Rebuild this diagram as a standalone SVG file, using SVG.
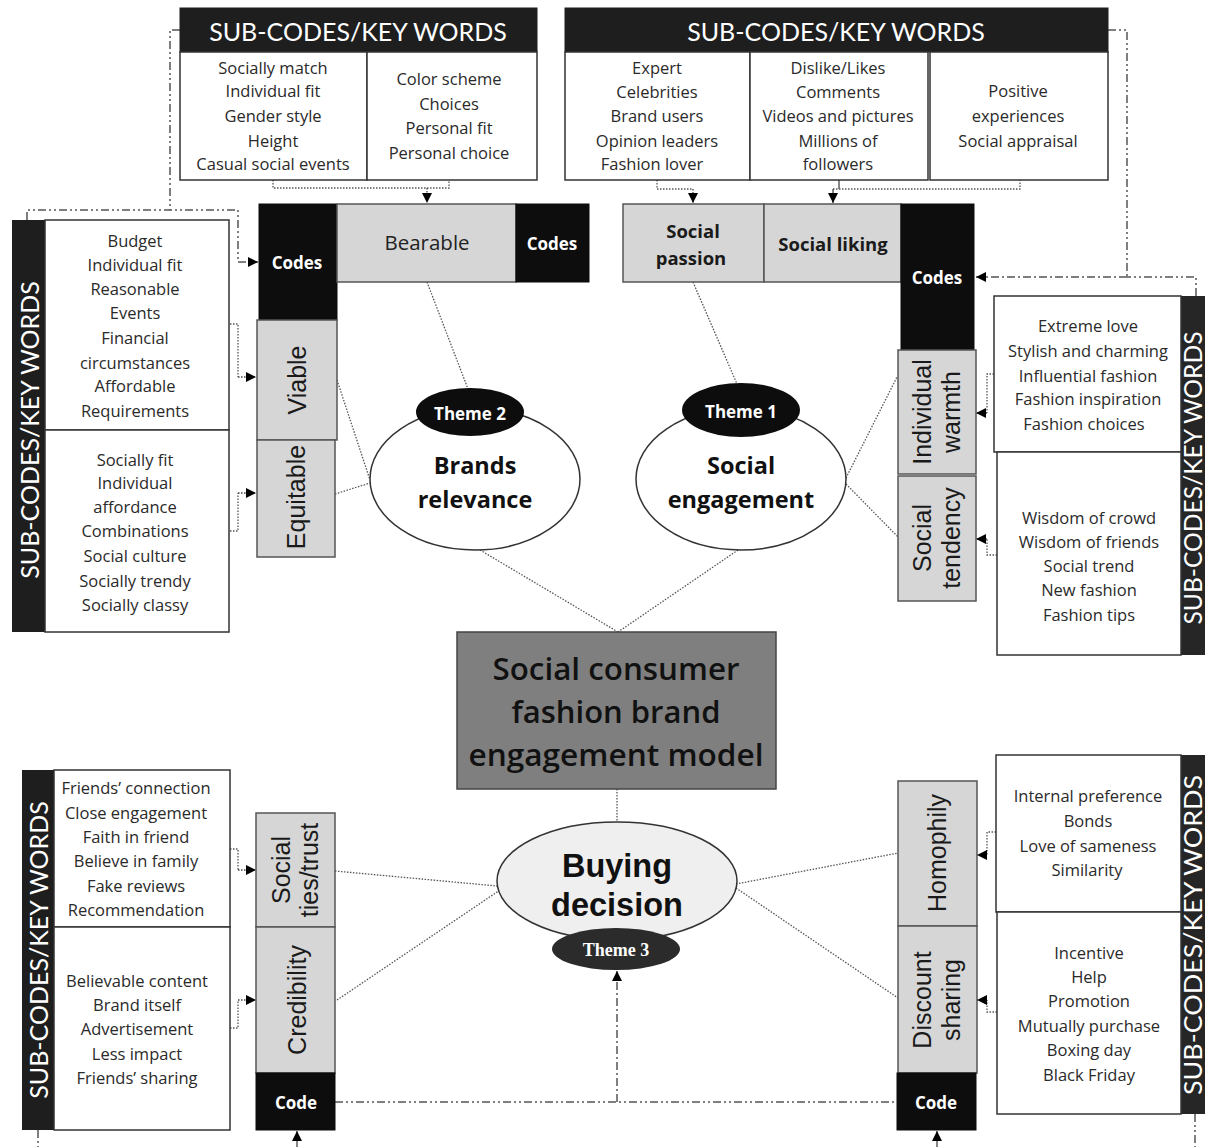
<svg xmlns="http://www.w3.org/2000/svg" width="1205" height="1147" viewBox="0 0 1205 1147">
<defs>
<marker id="ah" viewBox="0 0 10 10" refX="10" refY="5" markerWidth="10" markerHeight="10" markerUnits="userSpaceOnUse" orient="auto"><path d="M0,0 L10,5 L0,10 z" fill="#000"/></marker>
</defs>
<style>
.t{font-family:"Open Sans",Lato,"Liberation Sans",sans-serif;font-size:16.5px;fill:#2a2a2a;text-anchor:middle;dominant-baseline:central}
.hd{font-family:Lato,"Open Sans","Liberation Sans",sans-serif;font-size:25px;fill:#fff;text-anchor:middle;dominant-baseline:central}
.wb{font-family:"Open Sans",Lato,"Liberation Sans",sans-serif;font-size:17px;font-weight:700;fill:#fff;text-anchor:middle;dominant-baseline:central}
.bk{font-family:"Open Sans",Lato,"Liberation Sans",sans-serif;font-size:18.5px;font-weight:700;fill:#1a1a1a;text-anchor:middle;dominant-baseline:central}
.ar{font-family:"Liberation Sans",Arial,sans-serif;font-size:25px;fill:#1a1a1a;text-anchor:middle;dominant-baseline:central}
.th{font-family:"Open Sans",Lato,"Liberation Sans",sans-serif;font-size:23.5px;font-weight:700;fill:#111;text-anchor:middle;dominant-baseline:central}
.cm{font-family:"Open Sans",Lato,"Liberation Sans",sans-serif;font-size:30px;font-weight:600;fill:#111;text-anchor:middle;dominant-baseline:central}
.wbox{fill:#fff;stroke:#333;stroke-width:1.5}
.hbar{fill:#1e1e1e;stroke:#1e1e1e}
.blk{fill:#0d0d0d;stroke:#0d0d0d}
.gbox{fill:#d6d6d6;stroke:#555;stroke-width:1.5}
.dot{fill:none;stroke:#555;stroke-width:1.3;stroke-dasharray:1.5 1.5}
.dd{fill:none;stroke:#555;stroke-width:1.5;stroke-dasharray:8 3 2 3 2 3}
.arr{fill:none;stroke:#444;stroke-width:1.3;stroke-dasharray:1.5 1.5;marker-end:url(#ah)}
.arrd{fill:none;stroke:#555;stroke-width:1.5;stroke-dasharray:8 3 2 3;marker-end:url(#ah)}
</style>

<g id="connectors">
<path class="dot" d="M273,180 V188 H449 V180"/>
<path class="arr" d="M427,188 V203"/>
<path class="dot" d="M657,180 V189 H693"/>
<path class="arr" d="M693,189 V203"/>
<path d="M839,180 V189" stroke="#444" stroke-width="1.3"/>
<path class="dot" d="M833,189 H1020 V180"/>
<path d="M833,189 V203" fill="none" stroke="#444" stroke-width="1.3" marker-end="url(#ah)"/>
<path class="dot" d="M230,324 H238 V377"/>
<path class="arr" d="M238,377 H256"/>
<path class="dot" d="M230,531 H238 V493"/>
<path class="arr" d="M238,493 H256"/>
<path class="dot" d="M994,374 H987 V413"/>
<path class="arr" d="M987,413 H976"/>
<path class="dot" d="M997,555 H987 V539"/>
<path class="arr" d="M987,539 H976"/>
<path class="dot" d="M230,849 H238 V870"/>
<path class="arr" d="M238,870 H256"/>
<path class="dot" d="M230,1028 H238 V1000"/>
<path class="arr" d="M238,1000 H256"/>
<path class="dot" d="M996,832 H987 V855"/>
<path class="arr" d="M987,855 H977"/>
<path class="dot" d="M997,1012 H987 V1000"/>
<path class="arr" d="M987,1000 H977"/>
<path class="dd" d="M180,30 H170 V210"/>
<path class="dd" d="M27,220 V210 H238 V262"/>
<path class="arrd" d="M238,262 H258"/>
<path class="dd" d="M1108,30 H1127 V277"/>
<path class="dd" d="M1196,296 V277 H1127"/>
<path class="arrd" d="M1127,277 H976"/>
<path class="dd" d="M335,1102 H897"/>
<path class="arrd" d="M617,1102 V971"/>
<path class="dd" d="M38,1130 V1147"/>
<path class="dd" d="M1195,1114 V1147"/>
<path d="M297,1147 V1131" fill="none" stroke="#444" stroke-width="1.3" marker-end="url(#ah)"/>
<path d="M937,1147 V1131" fill="none" stroke="#444" stroke-width="1.3" marker-end="url(#ah)"/>
<path class="dot" d="M427,282 L468,389"/>
<path class="dot" d="M337,380 L370,480"/>
<path class="dot" d="M335,494 L370,483"/>
<path class="dot" d="M480,550 L618,632"/>
<path class="dot" d="M693,282 L737,384"/>
<path class="dot" d="M846,478 L897,377"/>
<path class="dot" d="M846,484 L898,537"/>
<path class="dot" d="M738,550 L618,632"/>
<path class="dot" d="M617,789 V822"/>
<path class="dot" d="M335,871 L497,886"/>
<path class="dot" d="M337,1000 L500,890"/>
<path class="dot" d="M736,884 L898,853"/>
<path class="dot" d="M736,888 L898,998"/>
</g>

<g id="subcodes-top-left">
<rect class="hbar" x="180" y="8" width="357" height="44"/>
<text class="hd" x="358" y="31">SUB-CODES/KEY WORDS</text>
<rect class="wbox" x="180" y="52" width="187" height="128"/>
<rect class="wbox" x="367" y="52" width="170" height="128"/>
<text class="t" x="273" y="67">Socially match</text>
<text class="t" x="273" y="90">Individual fit</text>
<text class="t" x="273" y="115">Gender style</text>
<text class="t" x="273" y="140">Height</text>
<text class="t" x="273" y="163">Casual social events</text>
<text class="t" x="449" y="78">Color scheme</text>
<text class="t" x="449" y="103">Choices</text>
<text class="t" x="449" y="127">Personal fit</text>
<text class="t" x="449" y="152">Personal choice</text>
</g>

<g id="subcodes-top-right">
<rect class="hbar" x="565" y="8" width="543" height="44"/>
<text class="hd" x="836" y="31">SUB-CODES/KEY WORDS</text>
<rect class="wbox" x="565" y="52" width="185" height="128"/>
<rect class="wbox" x="750" y="52" width="178" height="128"/>
<rect class="wbox" x="930" y="52" width="178" height="128"/>
<text class="t" x="657" y="67">Expert</text>
<text class="t" x="657" y="91">Celebrities</text>
<text class="t" x="657" y="115">Brand users</text>
<text class="t" x="657" y="140">Opinion leaders</text>
<text class="t" x="652" y="163">Fashion lover</text>
<text class="t" x="838" y="67">Dislike/Likes</text>
<text class="t" x="838" y="91">Comments</text>
<text class="t" x="838" y="115">Videos and pictures</text>
<text class="t" x="838" y="140">Millions of</text>
<text class="t" x="838" y="163">followers</text>
<text class="t" x="1018" y="90">Positive</text>
<text class="t" x="1018" y="115">experiences</text>
<text class="t" x="1018" y="140">Social appraisal</text>
</g>

<g id="subcodes-left-top">
<rect x="12" y="220" width="33" height="412" fill="#1e1e1e"/>
<text class="hd" transform="translate(28.5,430) rotate(-90)">SUB-CODES/KEY WORDS</text>
<rect class="wbox" x="45" y="220" width="184" height="210"/>
<rect class="wbox" x="45" y="430" width="184" height="202"/>
<text class="t" x="135" y="240">Budget</text>
<text class="t" x="135" y="264">Individual fit</text>
<text class="t" x="135" y="288">Reasonable</text>
<text class="t" x="135" y="312">Events</text>
<text class="t" x="135" y="337">Financial</text>
<text class="t" x="135" y="362">circumstances</text>
<text class="t" x="135" y="385">Affordable</text>
<text class="t" x="135" y="410">Requirements</text>
<text class="t" x="135" y="459">Socially fit</text>
<text class="t" x="135" y="482">Individual</text>
<text class="t" x="135" y="506">affordance</text>
<text class="t" x="135" y="530">Combinations</text>
<text class="t" x="135" y="555">Social culture</text>
<text class="t" x="135" y="580">Socially trendy</text>
<text class="t" x="135" y="604">Socially classy</text>
</g>

<g id="subcodes-right-top">
<rect x="1181" y="296" width="24" height="359" fill="#262626"/>
<text class="hd" font-size="20" textLength="293" lengthAdjust="spacingAndGlyphs" transform="translate(1192,478) rotate(-90)">SUB-CODES/KEY WORDS</text>
<rect class="wbox" x="994" y="296" width="187" height="156"/>
<rect class="wbox" x="997" y="452" width="184" height="203"/>
<text class="t" x="1088" y="325">Extreme love</text>
<text class="t" x="1088" y="350">Stylish and charming</text>
<text class="t" x="1088" y="375">Influential fashion</text>
<text class="t" x="1088" y="398">Fashion inspiration</text>
<text class="t" x="1084" y="423">Fashion choices</text>
<text class="t" x="1089" y="517">Wisdom of crowd</text>
<text class="t" x="1089" y="541">Wisdom of friends</text>
<text class="t" x="1089" y="565">Social trend</text>
<text class="t" x="1089" y="589">New fashion</text>
<text class="t" x="1089" y="614">Fashion tips</text>
</g>

<g id="codes-theme2">
<rect class="blk" x="259" y="204" width="78" height="116"/>
<text class="wb" x="297" y="262">Codes</text>
<rect class="gbox" x="337" y="204" width="179" height="78"/>
<text x="427" y="242" font-family="'Open Sans',Lato,sans-serif" font-size="20.5" fill="#222" text-anchor="middle" dominant-baseline="central">Bearable</text>
<rect class="blk" x="516" y="204" width="73" height="78"/>
<text class="wb" x="552" y="243">Codes</text>
<rect class="gbox" x="257" y="320" width="80" height="120"/>
<text class="ar" font-size="23" transform="translate(297,380) rotate(-90)">Viable</text>
<rect class="gbox" x="257" y="440" width="78" height="117"/>
<text class="ar" font-size="23" transform="translate(296,497) rotate(-90)">Equitable</text>
</g>

<g id="theme2">
<ellipse cx="475" cy="479" rx="105" ry="71" fill="#fff" stroke="#333" stroke-width="1.5"/>
<ellipse cx="470" cy="412" rx="54" ry="24" fill="#0d0d0d"/>
<text class="wb" x="470" y="413">Theme 2</text>
<text class="th" x="475" y="465">Brands</text>
<text class="th" x="475" y="499">relevance</text>
</g>

<g id="codes-theme1">
<rect class="gbox" x="623" y="204" width="141" height="78"/>
<text class="bk" x="693" y="230">Social</text>
<text class="bk" x="691" y="257">passion</text>
<rect class="gbox" x="764" y="204" width="137" height="78"/>
<text class="bk" x="833" y="243">Social liking</text>
<rect class="blk" x="901" y="204" width="73" height="146"/>
<text class="wb" x="937" y="277">Codes</text>
<rect class="gbox" x="898" y="350" width="78" height="124"/>
<text class="ar" transform="translate(922,412) rotate(-90)">Individual</text>
<text class="ar" transform="translate(951,412) rotate(-90)">warmth</text>
<rect class="gbox" x="898" y="476" width="78" height="125"/>
<text class="ar" transform="translate(922,538) rotate(-90)">Social</text>
<text class="ar" transform="translate(951,538) rotate(-90)">tendency</text>
</g>

<g id="theme1">
<ellipse cx="741" cy="479" rx="105" ry="71" fill="#fff" stroke="#333" stroke-width="1.5"/>
<ellipse cx="741" cy="410" rx="59" ry="27" fill="#0d0d0d"/>
<text class="wb" x="741" y="411">Theme 1</text>
<text class="th" x="741" y="465">Social</text>
<text class="th" x="741" y="499">engagement</text>
</g>

<g id="center">
<rect x="457" y="632" width="319" height="157" fill="#7f7f7f" stroke="#444" stroke-width="1.5"/>
<text class="cm" x="616" y="668" textLength="247" lengthAdjust="spacingAndGlyphs">Social consumer</text>
<text class="cm" x="616" y="711" textLength="209" lengthAdjust="spacingAndGlyphs">fashion brand</text>
<text class="cm" x="616" y="754" textLength="295" lengthAdjust="spacingAndGlyphs">engagement model</text>
</g>

<g id="theme3">
<ellipse cx="617" cy="881" rx="120" ry="59" fill="#efefef" stroke="#333" stroke-width="1.5"/>
<text x="617" y="866" font-family="'Liberation Sans',Arial,sans-serif" font-size="32.5" font-weight="700" fill="#111" text-anchor="middle" dominant-baseline="central">Buying</text>
<text x="617" y="905" font-family="'Liberation Sans',Arial,sans-serif" font-size="32.5" font-weight="700" fill="#111" text-anchor="middle" dominant-baseline="central">decision</text>
<ellipse cx="616" cy="949" rx="64" ry="21" fill="#2b2b2b"/>
<text x="616" y="950" font-family="'Liberation Serif','Times New Roman',serif" font-size="18" font-weight="700" fill="#fff" text-anchor="middle" dominant-baseline="central">Theme 3</text>
</g>

<g id="subcodes-left-bottom">
<rect x="22" y="770" width="32" height="360" fill="#1e1e1e"/>
<text class="hd" transform="translate(38,950) rotate(-90)">SUB-CODES/KEY WORDS</text>
<rect class="wbox" x="54" y="770" width="176" height="157"/>
<rect class="wbox" x="54" y="927" width="176" height="203"/>
<text class="t" x="136" y="787">Friends’ connection</text>
<text class="t" x="136" y="812">Close engagement</text>
<text class="t" x="136" y="836">Faith in friend</text>
<text class="t" x="136" y="860">Believe in family</text>
<text class="t" x="136" y="885">Fake reviews</text>
<text class="t" x="136" y="909">Recommendation</text>
<text class="t" x="137" y="980">Believable content</text>
<text class="t" x="137" y="1004">Brand itself</text>
<text class="t" x="137" y="1028">Advertisement</text>
<text class="t" x="137" y="1053">Less impact</text>
<text class="t" x="137" y="1077">Friends’ sharing</text>
</g>

<g id="codes-theme3-left">
<rect class="gbox" x="256" y="813" width="79" height="114"/>
<text class="ar" transform="translate(281,870) rotate(-90)">Social</text>
<text class="ar" transform="translate(309,870) rotate(-90)">ties/trust</text>
<rect class="gbox" x="256" y="927" width="79" height="146"/>
<text class="ar" transform="translate(297,1000) rotate(-90)">Credibility</text>
<rect class="blk" x="256" y="1073" width="79" height="57"/>
<text class="wb" x="296" y="1102">Code</text>
</g>

<g id="codes-theme3-right">
<rect class="gbox" x="898" y="781" width="79" height="145"/>
<text class="ar" transform="translate(937,853) rotate(-90)">Homophily</text>
<rect class="gbox" x="898" y="926" width="79" height="147"/>
<text class="ar" transform="translate(922,1000) rotate(-90)">Discount</text>
<text class="ar" transform="translate(951,1000) rotate(-90)">sharing</text>
<rect class="blk" x="897" y="1073" width="79" height="57"/>
<text class="wb" x="936" y="1102">Code</text>
</g>

<g id="subcodes-right-bottom">
<rect x="1181" y="755" width="24" height="359" fill="#262626"/>
<text class="hd" font-size="20" textLength="320" lengthAdjust="spacingAndGlyphs" transform="translate(1192,935) rotate(-90)">SUB-CODES/KEY WORDS</text>
<rect class="wbox" x="996" y="755" width="185" height="157"/>
<rect class="wbox" x="997" y="912" width="184" height="202"/>
<text class="t" x="1088" y="795">Internal preference</text>
<text class="t" x="1088" y="820">Bonds</text>
<text class="t" x="1088" y="845">Love of sameness</text>
<text class="t" x="1087" y="869">Similarity</text>
<text class="t" x="1089" y="952">Incentive</text>
<text class="t" x="1089" y="976">Help</text>
<text class="t" x="1089" y="1000">Promotion</text>
<text class="t" x="1089" y="1025">Mutually purchase</text>
<text class="t" x="1089" y="1049">Boxing day</text>
<text class="t" x="1089" y="1074">Black Friday</text>
</g>
</svg>
